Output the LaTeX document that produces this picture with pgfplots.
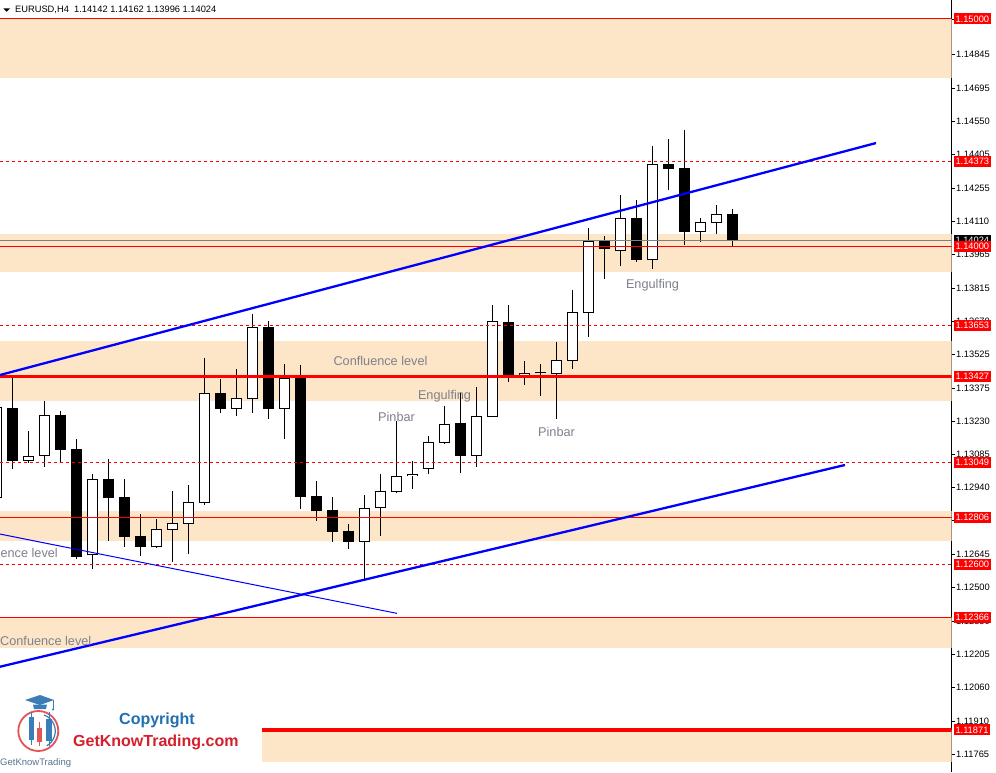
\documentclass[border=0pt]{standalone}
\usepackage{pgfplots}
\pgfplotsset{compat=1.18}
\usepackage{pgfplotstable}
\usepackage{fontspec}
\setmainfont{Liberation Sans}
\definecolor{bandc}{RGB}{253,229,199}
\definecolor{annot}{RGB}{125,130,140}
\definecolor{mtred}{RGB}{255,0,0}
\definecolor{mtblue}{RGB}{0,0,255}
\definecolor{bidgray}{RGB}{128,128,128}
\definecolor{capblue}{RGB}{59,125,185}
\definecolor{logored}{RGB}{212,32,44}
\definecolor{ringred}{RGB}{225,85,85}
\definecolor{cpblue}{RGB}{31,111,178}
\definecolor{smallgray}{RGB}{90,115,140}

% bullish candles: x o h l c
\pgfplotstableread{
x o h l c
-1 1.12895 1.13332 1.12883 1.13291
1 1.13058 1.13187 1.13047 1.13075
2 1.13080 1.13319 1.13030 1.13256
5 1.12641 1.12997 1.12578 1.12974
9 1.12677 1.12799 1.12673 1.12754
10 1.12754 1.12921 1.12610 1.12780
11 1.12780 1.12949 1.12647 1.12873
12 1.12873 1.13508 1.12863 1.13353
14 1.13287 1.13460 1.13254 1.13331
15 1.13329 1.13700 1.13267 1.13643
17 1.13287 1.13482 1.13153 1.13419
22 1.12701 1.12904 1.12534 1.12846
23 1.12851 1.12997 1.12726 1.12921
24 1.12920 1.13231 1.12915 1.12986
25 1.12989 1.13055 1.12933 1.12997
26 1.13022 1.13165 1.12999 1.13137
27 1.13137 1.13297 1.13131 1.13216
29 1.13080 1.13380 1.13030 1.13251
30 1.13250 1.13741 1.13247 1.13669
32 1.13429 1.13495 1.13389 1.13441
33 1.13442 1.13482 1.13341 1.13442
34 1.13441 1.13578 1.13241 1.13498
35 1.13498 1.13807 1.13460 1.13709
36 1.13709 1.14079 1.13602 1.14022
38 1.13982 1.14225 1.13914 1.14123
40 1.13942 1.14441 1.13901 1.14360
43 1.14064 1.14123 1.14020 1.14105
44 1.14103 1.14180 1.14055 1.14140
}\bull

% bearish candles: x o h l c
\pgfplotstableread{
x o h l c
0 1.13287 1.13420 1.13018 1.13056
3 1.13257 1.13275 1.13052 1.13104
4 1.13107 1.13151 1.12622 1.12633
6 1.12975 1.13063 1.12704 1.12893
7 1.12896 1.12975 1.12677 1.12721
8 1.12724 1.12821 1.12638 1.12677
13 1.13353 1.13416 1.13267 1.13285
16 1.13643 1.13671 1.13241 1.13285
18 1.13419 1.13477 1.12843 1.12897
19 1.12901 1.12967 1.12792 1.12836
20 1.12839 1.12896 1.12699 1.12743
21 1.12747 1.12777 1.12669 1.12699
28 1.13222 1.13354 1.13000 1.13078
31 1.13665 1.13741 1.13404 1.13426
37 1.14026 1.14045 1.13857 1.13986
39 1.14123 1.14203 1.13932 1.13941
41 1.14360 1.14472 1.14247 1.14341
42 1.14343 1.14511 1.14005 1.14064
45 1.14142 1.14162 1.13996 1.14024
}\bear

\begin{document}
\begin{tikzpicture}
\path[use as bounding box] (0pt,0pt) rectangle (996pt,772pt);
\clip (0pt,0pt) rectangle (996pt,772pt);
\fill[white] (0pt,0pt) rectangle (996pt,772pt);
\begin{axis}[
  at={(0pt,0pt)}, anchor=south west,
  width=951.5pt, height=772pt, scale only axis,
  xmin=-0.769, xmax=58.70, ymin=1.116857, ymax=1.150836,
  axis x line=none, axis y line*=right,
  y axis line style={black, line width=1pt},
  tick align=outside, major tick length=3pt,
  ytick style={black, line width=0.8pt},
  scaled y ticks=false,
  ytick={1.15000,1.14845,1.14695,1.14550,1.14405,1.14255,1.14110,1.13965,1.13815,1.13670,1.13525,1.13375,1.13230,1.13085,1.12940,1.12795,1.12645,1.12500,1.12350,1.12205,1.12060,1.11910,1.11765},
  yticklabels={1.15000,1.14845,1.14695,1.14550,1.14405,1.14255,1.14110,1.13965,1.13815,1.13670,1.13525,1.13375,1.13230,1.13085,1.12940,1.12795,1.12645,1.12500,1.12350,1.12205,1.12060,1.11910,1.11765},
  yticklabel style={font=\fontsize{9.3}{10}\selectfont, black, inner xsep=1.5pt},
  clip=true,
]
% zones
\addplot[fill=bandc, draw=none] coordinates {(-0.769,1.15000) (58.70,1.15000) (58.70,1.14740) (-0.769,1.14740)} -- cycle;
\addplot[fill=bandc, draw=none] coordinates {(-0.769,1.14054) (58.70,1.14054) (58.70,1.13886) (-0.769,1.13886)} -- cycle;
\addplot[fill=bandc, draw=none] coordinates {(-0.769,1.13583) (58.70,1.13583) (58.70,1.13320) (-0.769,1.13320)} -- cycle;
\addplot[fill=bandc, draw=none] coordinates {(-0.769,1.12835) (58.70,1.12835) (58.70,1.12702) (-0.769,1.12702)} -- cycle;
\addplot[fill=bandc, draw=none] coordinates {(-0.769,1.12366) (58.70,1.12366) (58.70,1.12232) (-0.769,1.12232)} -- cycle;
\addplot[fill=bandc, draw=none] coordinates {(15.61,1.11871) (58.70,1.11871) (58.70,1.11730) (15.61,1.11730)} -- cycle;

% wicks
\addplot[draw=none, mark=none, error bars/.cd, y dir=plus, y explicit, error mark=none,
  error bar style={draw=black, line width=1pt}]
  table[x=x, y=l, y error plus expr=\thisrow{h}-\thisrow{l}] {\bull};
\addplot[draw=none, mark=none, error bars/.cd, y dir=plus, y explicit, error mark=none,
  error bar style={draw=black, line width=1pt}]
  table[x=x, y=l, y error plus expr=\thisrow{h}-\thisrow{l}] {\bear};
% bull bodies
\addplot[draw=none, mark=none, error bars/.cd, y dir=plus, y explicit, error mark=none,
  error bar style={draw=black, line width=10.5pt}]
  table[x=x, y expr=\thisrow{o}-0.000022, y error plus expr=\thisrow{c}-\thisrow{o}+0.000044] {\bull};
\addplot[draw=none, mark=none, error bars/.cd, y dir=plus, y explicit, error mark=none,
  error bar style={draw=white, line width=8.5pt}]
  table[x=x, y expr=\thisrow{o}+0.000022, y error plus expr={max(\thisrow{c}-\thisrow{o}-0.000044,0)}] {\bull};
% bear bodies
\addplot[draw=none, mark=none, error bars/.cd, y dir=plus, y explicit, error mark=none,
  error bar style={draw=black, line width=10.5pt}]
  table[x=x, y=c, y error plus expr=\thisrow{o}-\thisrow{c}] {\bear};

% horizontal levels
\addplot[mtred, line width=1pt] coordinates {(-0.769,1.15000) (58.70,1.15000)};
\addplot[mtred, line width=1pt, dash pattern=on 3pt off 3pt] coordinates {(-0.769,1.14373) (58.70,1.14373)};
\addplot[bidgray, line width=1pt] coordinates {(-0.769,1.14024) (58.70,1.14024)};
\addplot[mtred, line width=1pt] coordinates {(-0.769,1.14000) (58.70,1.14000)};
\addplot[mtred, line width=1pt, dash pattern=on 3pt off 3pt] coordinates {(-0.769,1.13653) (58.70,1.13653)};
\addplot[mtred, line width=3.2pt] coordinates {(-0.769,1.13427) (58.70,1.13427)};
\addplot[mtred, line width=1pt, dash pattern=on 3pt off 3pt] coordinates {(-0.769,1.13049) (58.70,1.13049)};
\addplot[mtred, line width=1pt] coordinates {(-0.769,1.12806) (58.70,1.12806)};
\addplot[mtred, line width=1pt, dash pattern=on 3pt off 3pt] coordinates {(-0.769,1.12600) (58.70,1.12600)};
\addplot[mtred, line width=1pt] coordinates {(-0.769,1.12366) (58.70,1.12366)};
\addplot[mtred, line width=3.2pt] coordinates {(15.61,1.11871) (58.70,1.11871)};

% trend lines
\addplot[mtblue, line width=2.3pt] coordinates {(-0.769,1.13433) (53.98,1.14454)};
\addplot[mtblue, line width=2.3pt] coordinates {(-0.769,1.12149) (52.04,1.13037)};
\addplot[mtblue, line width=1pt] coordinates {(-0.769,1.12733) (24.04,1.12384)};

\coordinate (B1) at (axis cs:58.70,1.15000);
\coordinate (B2) at (axis cs:58.70,1.14373);
\coordinate (B3) at (axis cs:58.70,1.14024);
\coordinate (B4) at (axis cs:58.70,1.14000);
\coordinate (B5) at (axis cs:58.70,1.13653);
\coordinate (B6) at (axis cs:58.70,1.13427);
\coordinate (B7) at (axis cs:58.70,1.13049);
\coordinate (B8) at (axis cs:58.70,1.12806);
\coordinate (B9) at (axis cs:58.70,1.12600);
\coordinate (B10) at (axis cs:58.70,1.12366);
\coordinate (B11) at (axis cs:58.70,1.11871);
\end{axis}

\tikzset{pbox/.style={fill=mtred, text=white, font=\fontsize{9.3}{10}\selectfont, inner xsep=2pt, inner ysep=0pt, minimum height=11pt, anchor=west}}
\node[pbox] at ([xshift=1.8pt]B1) {1.15000};
\node[pbox] at ([xshift=1.8pt]B2) {1.14373};
\node[pbox, fill=black] at ([xshift=1.8pt]B3) {1.14024};
\node[pbox] at ([xshift=1.8pt]B4) {1.14000};
\node[pbox] at ([xshift=1.8pt]B5) {1.13653};
\node[pbox] at ([xshift=1.8pt]B6) {1.13427};
\node[pbox] at ([xshift=1.8pt]B7) {1.13049};
\node[pbox] at ([xshift=1.8pt]B8) {1.12806};
\node[pbox] at ([xshift=1.8pt]B9) {1.12600};
\node[pbox] at ([xshift=1.8pt]B10) {1.12366};
\node[pbox] at ([xshift=1.8pt]B11) {1.11871};

\begin{scope}[x=1pt,y=1pt]
% header
\fill[black] (3.3,763.7) -- (10,763.7) -- (6.65,760.3) -- cycle;
\node[anchor=base west, inner sep=0pt, font=\fontsize{9.3}{10}\selectfont] at (15,759.7) {EURUSD,H4\ \ 1.14142 1.14162 1.13996 1.14024};
% annotations
\tikzset{ann/.style={inner sep=0pt, text=annot, font=\fontsize{12.7}{14}\selectfont}}
\node[ann, anchor=base] at (380.5,406.5) {Confluence level};
\node[ann, anchor=base] at (444.5,372.5) {Engulfing};
\node[ann, anchor=base] at (396.5,350) {Pinbar};
\node[ann, anchor=base] at (556.5,335) {Pinbar};
\node[ann, anchor=base] at (652.5,483.7) {Engulfing};
\node[ann, anchor=base east] at (58,214.3) {Confluence level};
\node[ann, anchor=base west] at (0,127) {Confuence level};
% logo
\fill[capblue] (25,72) -- (40,77) -- (54,72) -- (40,67) -- cycle;
\fill[capblue] (33,67.5) -- (47,67.5) -- (46,63) -- (34,63) -- cycle;
\draw[capblue, line width=0.8] (53,72) -- (53,63);
\fill[capblue] (53,62.5) circle (1.2);
\draw[ringred, line width=1.8] (38.3,41) circle (20);
\draw[capblue, line width=1.2] (38.3,41) ++(70:17) arc (70:-60:17);
\draw[capblue, line width=0.8] (31.5,60) -- (31.5,27);
\fill[capblue] (29,32) rectangle (34,55);
\draw[ringred, line width=0.8] (39.5,50) -- (39.5,26);
\fill[ringred] (37,30) rectangle (42,44);
\draw[capblue, line width=0.8] (49,60) -- (49,26);
\fill[capblue] (46,31) rectangle (52,53);
\node[anchor=base west, inner sep=0pt, text=smallgray, font=\fontsize{9.5}{10}\selectfont] at (0,7) {GetKnowTrading};
\node[anchor=base west, inner sep=0pt, text=cpblue, font=\bfseries\fontsize{16}{18}\selectfont] at (119,48) {Copyright};
\node[anchor=base west, inner sep=0pt, text=logored, font=\bfseries\fontsize{16}{18}\selectfont] at (73,26) {GetKnowTrading.com};
\end{scope}
\end{tikzpicture}
\end{document}
